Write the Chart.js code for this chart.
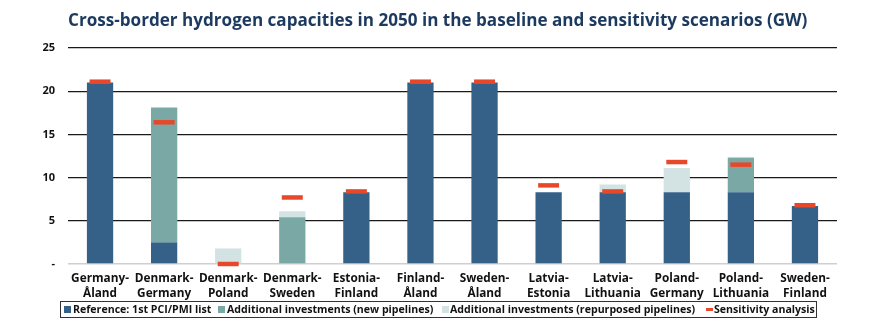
<!DOCTYPE html>
<html>
<head>
<meta charset="utf-8">
<script src="https://cdn.jsdelivr.net/npm/chart.js@4/dist/chart.umd.min.js"></script>
<style>
body{margin:0;background:#fff;font-family:"Open Sans",sans-serif}
#wrap{position:relative;width:889px;height:334px}
#title{position:absolute;left:68px;top:8px;font-size:17.1px;font-weight:700;color:#1c3a5f;white-space:nowrap}
#legend{position:absolute;left:60px;top:301px;width:755px;height:15px;border:1px solid #333;font-size:10.6px;font-weight:700;color:#111;white-space:nowrap}
#legend span{position:absolute;top:0;line-height:15px}
#legend i{position:absolute;display:block}
#legend i.box{top:4px;width:7px;height:7px}
#legend i.dash{top:6px;width:7px;height:3px;background:#e8482a}
canvas{position:absolute;left:0;top:0}
</style>
</head>
<body>
<div id="wrap">
<canvas id="chart" width="889" height="334"></canvas>
<div id="title">Cross-border hydrogen capacities in 2050 in the baseline and sensitivity scenarios (GW)</div>
<div id="legend">
<i class="box" style="left:3px;background:#356189"></i><span style="left:12px">Reference: 1st PCI/PMI list</span>
<i class="box" style="left:157px;background:#7aa9a5"></i><span style="left:166px">Additional investments (new pipelines)</span>
<i class="box" style="left:381px;background:#d3e2e2"></i><span style="left:389px">Additional investments (repurposed pipelines)</span>
<i class="dash" style="left:645px"></i><span style="left:653px">Sensitivity analysis</span>
</div>
</div>
<script>
const categories = [
["Germany-","Åland"],["Denmark-","Germany"],["Denmark-","Poland"],["Denmark-","Sweden"],
["Estonia-","Finland"],["Finland-","Åland"],["Sweden-","Åland"],["Latvia-","Estonia"],
["Latvia-","Lithuania"],["Poland-","Germany"],["Poland-","Lithuania"],["Sweden-","Finland"]
]
const reference = [21, 2.5, 0, 0, 8.3, 21, 21, 8.3, 8.3, 8.3, 8.3, 6.7]
const newPipelines = [0, 15.6, 0, 5.4, 0, 0, 0, 0, 0, 0, 4.0, 0]
const repurposed = [0, 0, 1.8, 0.7, 0, 0, 0, 0, 0.9, 2.8, 0.1, 0]
const sensitivity = [21.1, 16.4, 0, 7.7, 8.4, 21.1, 21.1, 9.1, 8.4, 11.8, 11.5, 6.8]
const yTicks = [0, 5, 10, 15, 20, 25]

const tickFont = {family:"Open Sans", size:11.8, weight:"bold"}

new Chart(document.getElementById("chart"),{
data:{
labels:categories,
datasets:[
{type:"bar",label:"Reference: 1st PCI/PMI list",data:reference,backgroundColor:"#356189",stack:"a",order:2},
{type:"bar",label:"Additional investments (new pipelines)",data:newPipelines,backgroundColor:"#7aa9a5",stack:"a",order:2},
{type:"bar",label:"Additional investments (repurposed pipelines)",data:repurposed,backgroundColor:"#d3e2e2",stack:"a",order:2},
{type:"line",label:"Sensitivity analysis",data:sensitivity,stack:"b",showLine:false,clip:false,order:1,
pointStyle:"line",pointRadius:10.5,pointHoverRadius:10.5,pointBorderWidth:4.5,pointBorderColor:"#e8482a",pointBackgroundColor:"#e8482a"}
]
},
options:{
responsive:false,
animation:false,
events:[],
layout:{padding:{top:48,right:52,left:0,bottom:0}},
plugins:{legend:{display:false},title:{display:false},tooltip:{enabled:false}},
datasets:{bar:{categoryPercentage:1,barPercentage:0.41}},
scales:{
x:{
stacked:true,
grid:{display:false},
border:{display:false},
ticks:{color:"#111",font:tickFont,maxRotation:0,autoSkip:false,padding:0},
afterFit:s=>{s.height=70}
},
y:{
stacked:true,
min:0,max:25,
afterBuildTicks:s=>{s.ticks=yTicks.map(v=>({value:v}))},
grid:{color:c=>c.tick.value===0?"#cfcfcf":"#1a1a1a",lineWidth:c=>c.tick.value===0?1.5:1.3,drawTicks:false},
border:{display:false},
ticks:{color:"#111",font:{family:"Open Sans",size:11,weight:"bold"},padding:13,callback:v=>v===0?"-":v},
afterFit:s=>{s.width=68}
}
}
}
})
</script>
</body>
</html>
